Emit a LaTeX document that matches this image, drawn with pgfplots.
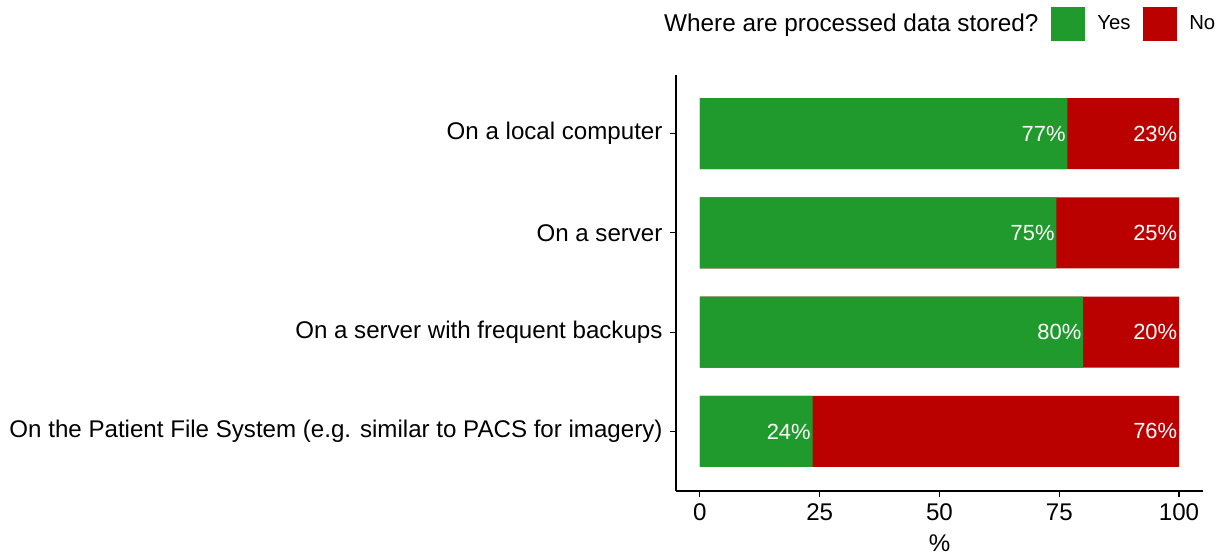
\documentclass[border=0pt]{standalone}
\usepackage{fontspec}
\setmainfont{Liberation Sans}
\usepackage{pgfplots}
\pgfplotsset{compat=1.18}
\definecolor{yesgreen}{RGB}{33,154,45}
\definecolor{nored}{RGB}{187,0,0}

\begin{document}
\begin{tikzpicture}
\useasboundingbox (-338bp,-31.5bp) rectangle (275bp,245.5bp);
\begin{axis}[
    at={(0,0)}, anchor=south west,
    scale only axis, width=263.5bp, height=208bp,
    xbar, bar shift=0pt, bar width=35.5bp,
    xmin=-5, xmax=105, ymin=0.4, ymax=4.59,
    axis x line=bottom, axis y line=left,
    axis line style={-, line width=0.55bp},
    xtick={0,25,50,75,100}, ytick={1,2,3,4},
    yticklabels={On the Patient File System (e.g. similar to PACS for imagery),
                 On a server with frequent backups, On a server, On a local computer},
    tick align=outside, major tick length=2.75bp,
    tick style={black, line width=0.55bp},
    ticklabel style={font=\fontsize{12.1}{14}\selectfont},
    yticklabel style={xshift=-0.5bp},
    /pgf/number format/assume math mode=true,
    xlabel={\%}, xlabel style={font=\fontsize{12.1}{14}\selectfont, yshift=0bp},
    nodes near coords, point meta=explicit symbolic,
    every node near coord/.style={anchor=east, text=white, inner xsep=0.75bp,
        font=\fontsize{11}{13}\selectfont},
    legend columns=3,
    legend style={draw=none, fill=none, at={(axis description cs:1.024,1.123)},
        anchor=east, inner sep=0pt, nodes={inner sep=0pt},
        /tikz/column sep=6.25bp, font=\fontsize{10.2}{12}\selectfont},
]
% "No" share drawn as the full bar, "Yes" share laid over it
\addplot[fill=nored, draw=none, forget plot]
    coordinates {(100,1) [76\%] (100,2) [20\%] (100,3) [25\%] (100,4) [23\%]};
\addplot[fill=yesgreen, draw=none, forget plot]
    coordinates {(23.5,1) [24\%] (80.0,2) [80\%] (74.4,3) [75\%] (76.7,4) [77\%]};

\addlegendimage{empty legend}
\addlegendentry{\fontsize{12.2}{14}\selectfont Where are processed data stored?}
\addlegendimage{legend image code/.code={\fill[yesgreen] (0bp,-8.25bp) rectangle (16.5bp,8.25bp);}}
\addlegendentry{Yes}
\addlegendimage{legend image code/.code={\fill[nored] (0bp,-8.25bp) rectangle (16.5bp,8.25bp);}}
\addlegendentry{No}
\end{axis}
\end{tikzpicture}
\end{document}
